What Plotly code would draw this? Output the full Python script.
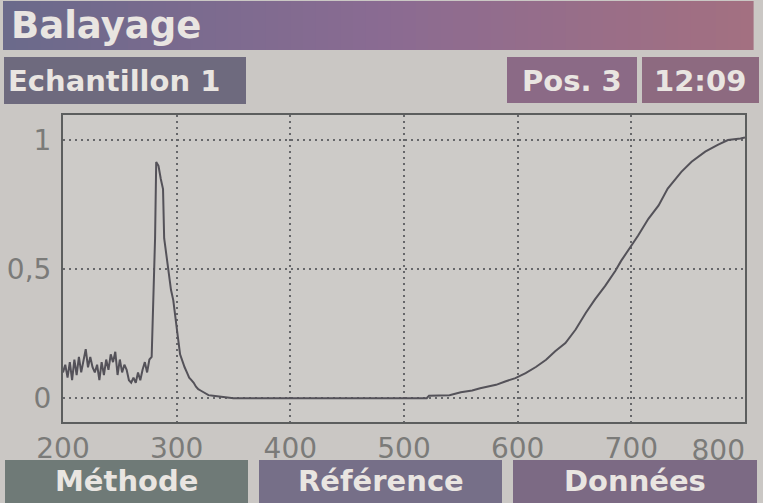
'''
Balayage screen of the spectrophotometer: absorbance scan 200-800 nm
'''

import plotly.graph_objects as go

#### scan data (wavelength in nm, absorbance)
wavelength = [200, 202, 204, 206, 208, 210, 212, 214, 216, 218,
              220, 222, 224, 226, 228, 230, 232, 234, 236, 238,
              240, 242, 244, 246, 248, 250, 252, 254, 256, 258,
              260, 262, 264, 266, 268, 270, 272, 274, 276, 278,
              279, 280, 281, 282, 284, 286, 288, 289, 291, 293,
              295, 297, 299, 301, 303, 305, 307, 309, 311, 313,
              315, 317, 319, 321, 323, 325, 328, 332, 336, 340,
              345, 350, 360, 380, 400, 420, 440, 460, 480, 500,
              520, 522, 530, 540, 550, 560, 567, 575, 581, 589,
              598, 607, 616, 625, 633, 642, 651, 660, 668, 677,
              686, 691, 699, 706, 715, 724, 732, 744, 753, 765,
              776, 785, 796, 800]
absorbance = [0.10, 0.13, 0.08, 0.14, 0.07, 0.15, 0.09, 0.16, 0.10, 0.14,
              0.19, 0.12, 0.16, 0.12, 0.10, 0.13, 0.07, 0.14, 0.09, 0.15,
              0.11, 0.17, 0.14, 0.18, 0.09, 0.15, 0.10, 0.13, 0.11, 0.07,
              0.06, 0.08, 0.06, 0.10, 0.07, 0.11, 0.14, 0.10, 0.15, 0.16,
              0.30, 0.45, 0.62, 0.915, 0.90, 0.85, 0.81, 0.62, 0.55, 0.50,
              0.42, 0.38, 0.30, 0.24, 0.17, 0.14, 0.12, 0.10, 0.08, 0.07,
              0.06, 0.045, 0.035, 0.03, 0.025, 0.02, 0.012, 0.01, 0.008, 0.005,
              0.003, 0.0, 0.0, 0.0, 0.0, 0.0, 0.0, 0.0, 0.0, 0.0,
              0.0, 0.01, 0.01, 0.012, 0.023, 0.03, 0.039, 0.045, 0.052, 0.065,
              0.078, 0.097, 0.121, 0.149, 0.182, 0.214, 0.266, 0.331, 0.383, 0.435,
              0.494, 0.532, 0.584, 0.630, 0.695, 0.747, 0.812, 0.877, 0.916, 0.955,
              0.981, 1.0, 1.006, 1.01]

#### axis ticks
x_ticks = [200, 300, 400, 500, 600, 700]
x_last_tick = [800]   # drawn on its own overlay axis, kept inside the screen
y_ticks = [0, 0.5, 1]
y_ticktext = ['0', '0,5', '1']

#### screen texts
title_text = 'Balayage'
sample_text = 'Echantillon 1'
pos_text = 'Pos. 3'
clock_text = '12:09'
button_texts = ['Méthode', 'Référence', 'Données']

################
# layout helpers (pixels -> paper coords)
################
W, H = 763, 503
PL, PR, PT, PB = 63, 745, 115, 422


def fx(px):
    return (px - PL) / (PR - PL)


def fy(py):
    return (PB - py) / (PB - PT)


def hex_mix(c0, c1, t):
    a = [int(c0[i:i + 2], 16) for i in (1, 3, 5)]
    b = [int(c1[i:i + 2], 16) for i in (1, 3, 5)]
    return '#' + ''.join(f'{round(a[k] + (b[k] - a[k]) * t):02x}' for k in range(3))


def rect(x0, y0, x1, y1, color):
    return dict(type='rect', xref='paper', yref='paper', layer='below',
                x0=fx(x0), x1=fx(x1), y0=fy(y1), y1=fy(y0),
                fillcolor=color, line_width=0)


def label(text, px, py, size, anchor='center'):
    return dict(text=text, xref='paper', yref='paper', x=fx(px), y=fy(py),
                xanchor=anchor, yanchor='middle', showarrow=False,
                font=dict(family='DejaVu Sans', size=size, color='#e9e5e1', weight='bold'))


shapes = []
annotations = []

#### header bar with gradient
n_slices = 60
x_start, x_end = 3, 753
for i in range(n_slices):
    t = i / (n_slices - 1)
    col = hex_mix('#6b6a8b', '#8a6b92', t * 2) if t < 0.5 else hex_mix('#8a6b92', '#a37081', (t - 0.5) * 2)
    xa = x_start + (x_end - x_start) * i / n_slices
    xb = x_start + (x_end - x_start) * (i + 1) / n_slices + 0.6
    shapes.append(rect(xa, 1, xb, 50, col))
annotations.append(label(title_text, 9, 25, 37, 'left'))

#### second row
shapes.append(rect(4, 57, 246, 104, '#6e6a7e'))
shapes.append(rect(507, 57, 637, 103, '#8b6a86'))
shapes.append(rect(642, 57, 759, 103, '#8d6a80'))
annotations.append(label(sample_text, 6, 81, 29, 'left'))
annotations.append(label(pos_text, 572, 81, 29))
annotations.append(label(clock_text, 700, 81, 29))

#### bottom buttons
button_boxes = [(5, 248, '#6f7a77'), (259, 502, '#766f88'), (513, 757, '#7c6a84')]
for (xa, xb, col), txt in zip(button_boxes, button_texts):
    shapes.append(rect(xa, 460, xb, 503, col))
    annotations.append(label(txt, (xa + xb) / 2, 481, 29))

################
# figure
################
fig = go.Figure()
fig.add_trace(go.Scatter(x=wavelength, y=absorbance, mode='lines',
                         line=dict(color='#545259', width=2), hoverinfo='skip'))

axis_font = dict(family='DejaVu Sans', size=28, color='#7b7b79')
grid = dict(showgrid=True, gridcolor='#66676a', gridwidth=2, griddash='2px,4px')
fig.update_layout(
    width=W, height=H,
    margin=dict(l=PL, r=W - PR, t=PT, b=H - PB, pad=0, autoexpand=False),
    paper_bgcolor='#cac7c4', plot_bgcolor='#cdcbc8',
    showlegend=False,
    shapes=shapes, annotations=annotations,
    xaxis=dict(range=[200, 800], tickvals=x_ticks, **grid,
               showline=True, linecolor='#5c5e5e', linewidth=2, mirror=True,
               ticks='', tickfont=axis_font, zeroline=False, fixedrange=True,
               automargin=False),
    xaxis2=dict(range=[200, 800], overlaying='x', side='bottom', matches='x',
                tickvals=x_last_tick, showgrid=False, showline=False, ticks='',
                tickfont=axis_font, ticklabelposition='outside left',
                ticklabelstandoff=9, ticklabeloverflow='allow',
                zeroline=False, fixedrange=True, automargin=False),
    yaxis=dict(range=[-0.092, 1.097], tickvals=y_ticks, ticktext=y_ticktext, **grid,
               showline=True, linecolor='#5c5e5e', linewidth=2, mirror=True,
               ticks='', ticklabelstandoff=4, tickfont=axis_font, zeroline=False,
               fixedrange=True, automargin=False),
)
# empty trace so that the overlay axis is drawn
fig.add_trace(go.Scatter(x=x_last_tick, y=[None], xaxis='x2', yaxis='y',
                         mode='lines', hoverinfo='skip'))

fig.write_html('out.html', config={'displayModeBar': False},
               post_script="document.body.style.margin='0';")
